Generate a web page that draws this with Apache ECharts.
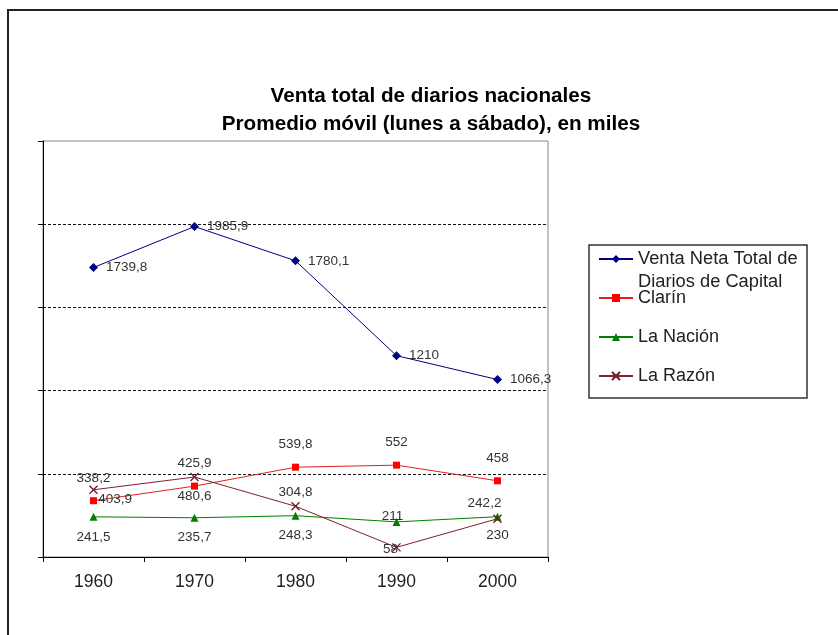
<!DOCTYPE html>
<html>
<head>
<meta charset="utf-8">
<script src="https://cdn.jsdelivr.net/npm/echarts@6.0.0/dist/echarts.min.js"></script>
<style>
html,body{margin:0;padding:0;background:#fff}
#chart{width:838px;height:635px}
</style>
</head>
<body>
<div id="chart"></div>
<script>
// ---- data ----
const years = ['1960', '1970', '1980', '1990', '2000'];
const ventaTotal = [1739.8, 1985.9, 1780.1, 1210, 1066.3];
const clarin = [338.2, 425.9, 539.8, 552, 458];
const laNacion = [241.5, 235.7, 248.3, 211, 242.2];
const laRazon = [403.9, 480.6, 304.8, 58, 230];
const seriesNames = ['Venta Neta Total de Diarios de Capital', 'Clarín', 'La Nación', 'La Razón'];
const ventaLegendLines = ['Venta Neta Total de', 'Diarios de Capital'];
const titleLines = ['Venta total de diarios nacionales', 'Promedio móvil (lunes a sábado), en miles'];

// ---- label placement (style only) ----
const razonLabelStyle = [
  {position: 'right', distance: 0, offset: [0, 9]},
  {position: 'bottom', distance: 8},
  {position: 'top', distance: 2},
  {position: 'inside', offset: [-6, 2]},
  {position: 'bottom', distance: 5}
];
const nacionLabelStyle = [
  {position: 'bottom', distance: 9},
  {position: 'bottom', distance: 9},
  {position: 'bottom', distance: 9},
  {position: 'inside', offset: [-4, -6]},
  {position: 'top', distance: 2, offset: [-13, 0]}
];

const FONT = '"Liberation Sans", Arial, sans-serif';
const fmt = v => String(v).replace('.', ',');
const withLabels = (vals, styles) => vals.map((v, i) => ({value: v, label: styles[i]}));

const baseLabel = {show: true, fontSize: 13.5, color: '#333', fontFamily: FONT, formatter: p => fmt(p.value)};

const chart = echarts.init(document.getElementById('chart'));
chart.setOption({
  animation: false,
  backgroundColor: '#fff',
  graphic: [{
    type: 'rect', silent: true, z: -10,
    shape: {x: 8, y: 10, width: 1000, height: 1000},
    style: {fill: 'none', stroke: '#222', lineWidth: 2}
  }],
  title: {
    text: titleLines.join('\n'),
    left: 431, top: 82, padding: 0,
    textAlign: 'center', textVerticalAlign: 'top',
    textStyle: {fontFamily: FONT, fontSize: 20.7, fontWeight: 'bold', lineHeight: 28.5, color: '#000'}
  },
  grid: {
    left: 43, right: 290, top: 141, bottom: 78,
    show: true, borderColor: '#888', borderWidth: 1, backgroundColor: 'transparent'
  },
  legend: [{
    data: [seriesNames[0]],
    left: 598, top: 224.5, padding: 0,
    itemWidth: 34, itemHeight: 10,
    // leading empty line keeps the first text line level with the symbol
    formatter: () => '\n' + ventaLegendLines.join('\n'),
    textStyle: {fontFamily: FONT, fontSize: 18.3, color: '#222', lineHeight: 23}
  }, {
    data: seriesNames.slice(1),
    orient: 'vertical',
    left: 589, top: 245,
    padding: [43, 9, 12, 9],
    itemGap: 19,
    itemWidth: 34, itemHeight: 10,
    borderColor: '#333', borderWidth: 1.5,
    textStyle: {fontFamily: FONT, fontSize: 18, color: '#222', lineHeight: 20, width: 160}
  }],
  xAxis: {
    type: 'category', data: years, boundaryGap: true,
    axisLine: {show: true, lineStyle: {color: '#000', width: 1}},
    axisTick: {show: true, length: 5, lineStyle: {color: '#000'}},
    axisLabel: {fontFamily: FONT, fontSize: 17.5, color: '#222', margin: 16},
    splitLine: {show: false}
  },
  yAxis: {
    type: 'value', min: 0, max: 2500, interval: 500,
    axisLine: {show: true, lineStyle: {color: '#000', width: 1}},
    axisTick: {show: true, length: 5, lineStyle: {color: '#000'}},
    axisLabel: {show: false},
    splitLine: {show: true, showMinLine: false, showMaxLine: false,
      lineStyle: {color: '#111', width: 1, type: [3, 2]}}
  },
  series: [{
    name: seriesNames[0], type: 'line', data: ventaTotal,
    symbol: 'diamond', symbolSize: 9,
    lineStyle: {color: '#000080', width: 1},
    itemStyle: {color: '#000080'},
    label: Object.assign({}, baseLabel, {position: 'right', distance: 8})
  }, {
    name: seriesNames[1], type: 'line', data: clarin,
    symbol: 'rect', symbolSize: 7,
    lineStyle: {color: '#e02020', width: 1},
    itemStyle: {color: '#ff0000'},
    label: Object.assign({}, baseLabel, {position: 'top', distance: 12})
  }, {
    name: seriesNames[2], type: 'line', data: withLabels(laNacion, nacionLabelStyle),
    symbol: 'triangle', symbolSize: 8,
    lineStyle: {color: '#008000', width: 1},
    itemStyle: {color: '#008000'},
    label: baseLabel
  }, {
    name: seriesNames[3], type: 'line', data: withLabels(laRazon, razonLabelStyle),
    symbol: 'path://M0,0L10,10M10,0L0,10', symbolSize: 8,
    lineStyle: {color: '#802030', width: 1},
    itemStyle: {color: '#701828', borderColor: '#701828', borderWidth: 1.3},
    label: baseLabel
  }]
});
</script>
</body>
</html>
